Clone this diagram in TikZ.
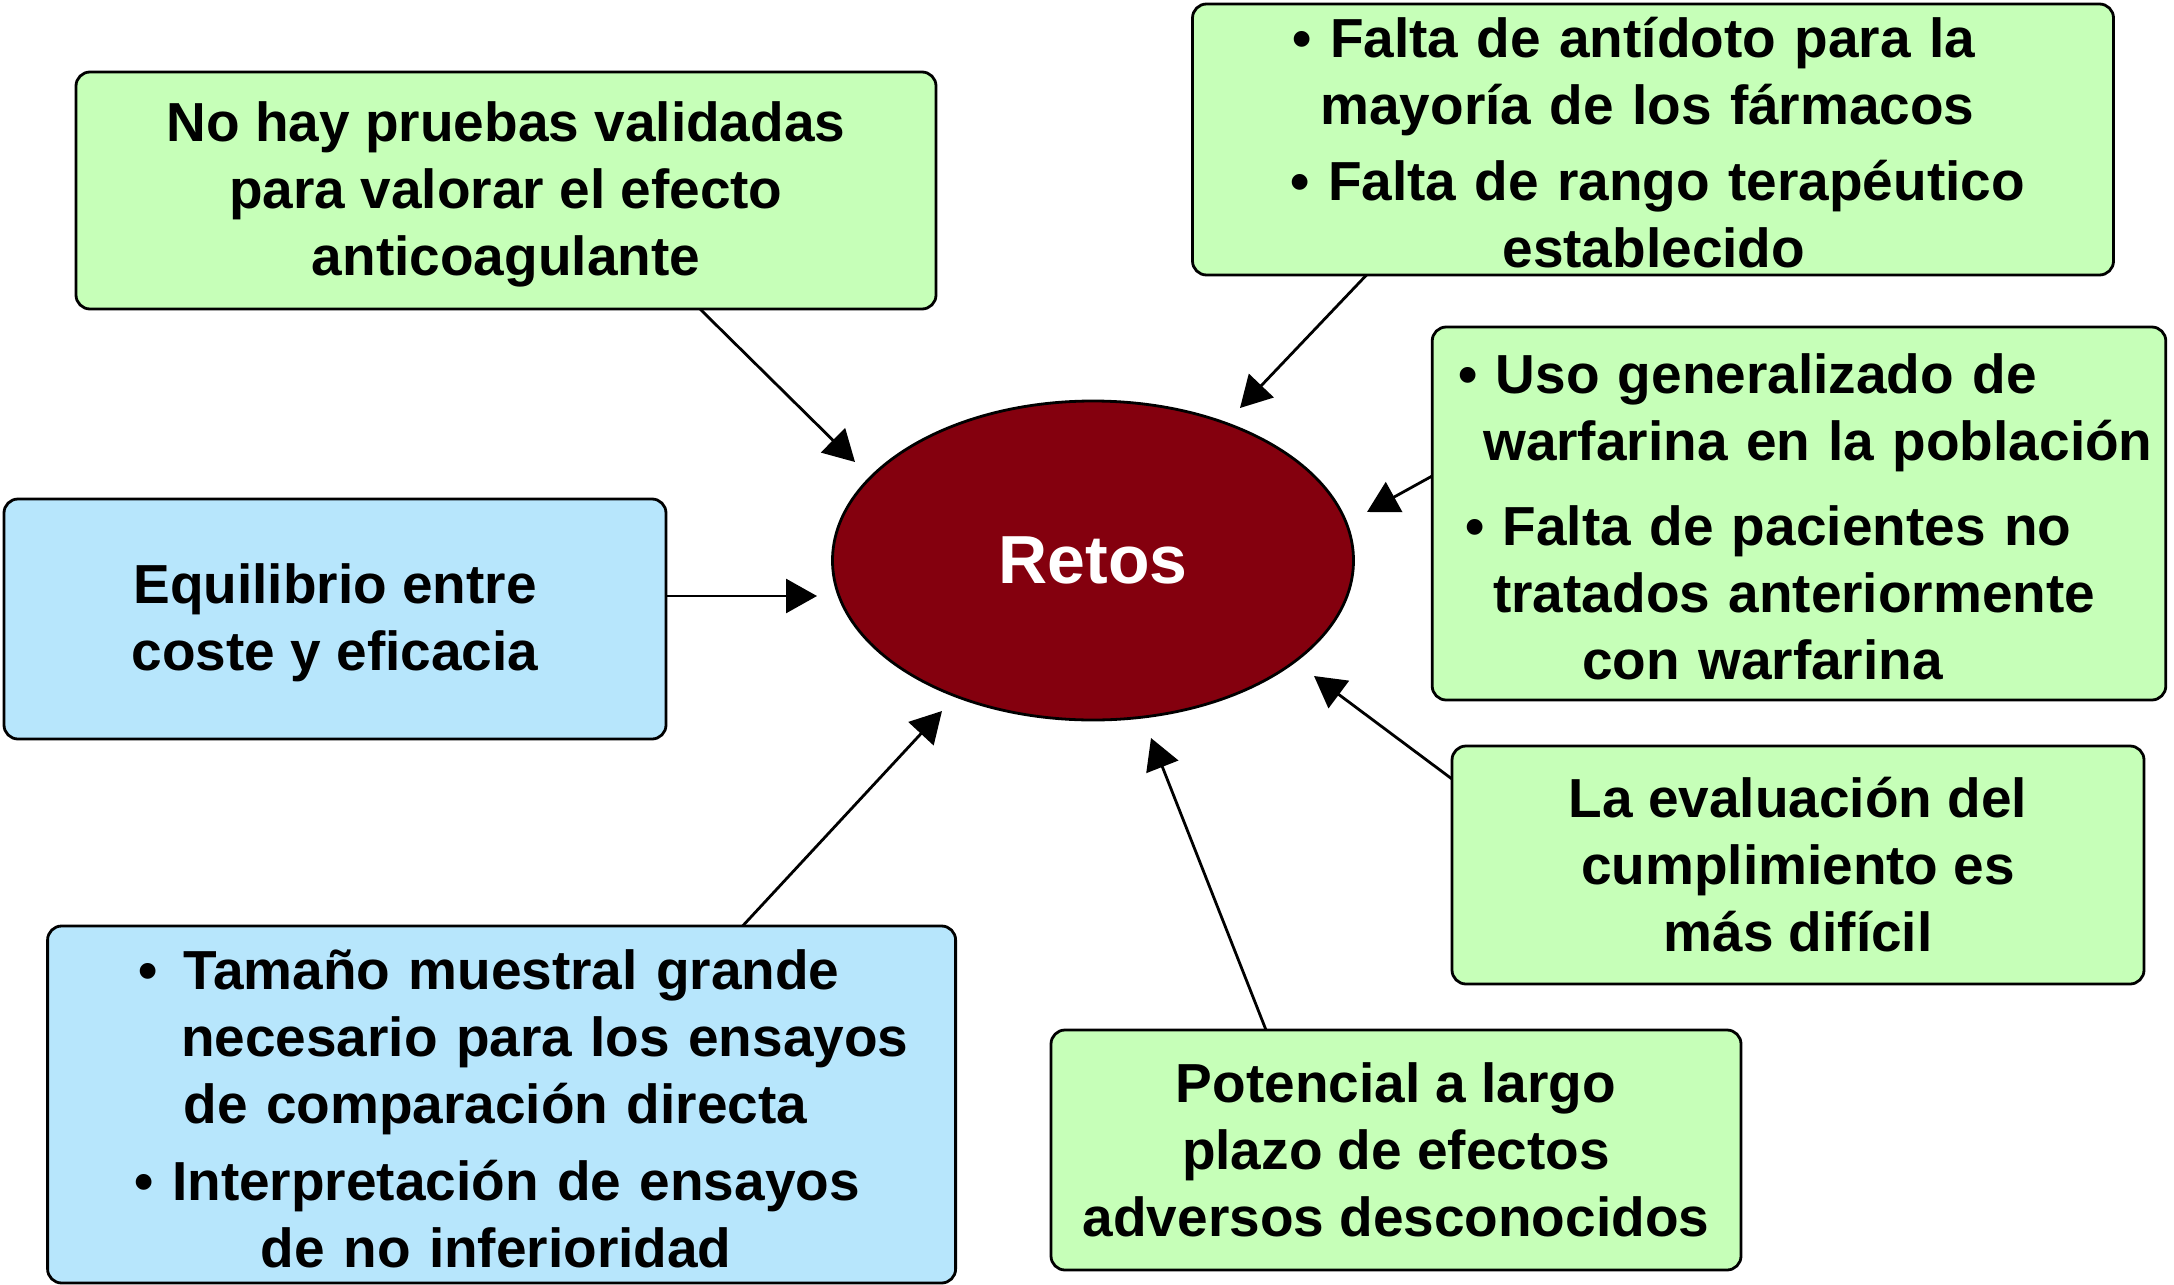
\documentclass[tikz,border=0pt]{standalone}
\usepackage{fontspec}
\setmainfont{Liberation Sans}
\usetikzlibrary{shapes.geometric,arrows.meta,calc}
\definecolor{boxgreen}{RGB}{198,255,184}
\definecolor{boxblue}{RGB}{183,230,252}
\definecolor{retosred}{RGB}{132,0,14}
\newcommand{\tstrut}[1]{\rule{0pt}{#1}}
\tikzset{
  basebox/.style={draw=black,line width=1.4pt,rounded corners=7pt,inner sep=0pt,outer sep=0pt,
    font=\bfseries\fontsize{27.5}{33.5}\selectfont},
  gbox/.style={basebox,fill=boxgreen},
  bbox/.style={basebox,fill=boxblue},
  arr/.style={-{Triangle[length=15.5pt,width=17pt]},line width=1.4pt},
}
\begin{document}
\begin{tikzpicture}[x=0.5pt,y=-0.5pt]
\useasboundingbox (0,0) rectangle (2174,1285);

% centre
\node[ellipse,draw=black,line width=1.4pt,fill=retosred,inner sep=0pt,
      minimum width=260.5pt,minimum height=159.5pt,text=white,
      font=\bfseries\fontsize{34}{40}\selectfont] (R) at (1093,560.5) {Retos};

% boxes
\node[gbox,align=center,minimum width=430pt,minimum height=118.5pt] (A) at (506,190.5)
  {\tstrut{24pt}No hay pruebas validadas\\para valorar el efecto\\anticoagulante};

\node[gbox,align=left,text width=460.5pt,minimum height=135.5pt] (B) at (1653,139.5)
  {\hspace*{50pt}\tstrut{23pt}• Falta de antídoto para la\\
   \hspace*{64pt}mayoría de los fármacos\\[4.7pt]
   \hspace*{49pt}• Falta de rango terapéutico\\
   \hspace*{155pt}establecido};

\node[gbox,align=left,text width=366.8pt,minimum height=186.5pt] (C) at (1799,513.5)
  {\hspace*{13pt}\tstrut{23pt}• Uso generalizado de\\
   \hspace*{25.5pt}warfarina en la población\\[9pt]
   \hspace*{16.5pt}• Falta de pacientes no\\
   \hspace*{30.5pt}tratados anteriormente\\
   \hspace*{75pt}con warfarina};

\node[bbox,align=center,minimum width=331pt,minimum height=120pt] (D) at (335,619)
  {\tstrut{24pt}Equilibrio entre\\coste y eficacia};

\node[gbox,align=center,minimum width=346pt,minimum height=119pt] (E) at (1798,865)
  {La evaluación del\\cumplimiento es\\más difícil};

\node[gbox,align=center,minimum width=345pt,minimum height=120pt] (F) at (1396,1150)
  {Potencial a largo\\plazo de efectos\\adversos desconocidos};

\node[bbox,align=left,text width=454pt,minimum height=178.5pt] (G) at (501.6,1104.5)
  {\hspace*{45.3pt}\tstrut{24pt}•\hspace*{13pt}Tamaño muestral grande\\
   \hspace*{66.7pt}necesario para los ensayos\\
   \hspace*{68pt}de comparación directa\\[5pt]
   \hspace*{43.5pt}• Interpretación de ensayos\\
   \hspace*{106.7pt}de no inferioridad};

% arrow tips near the centre
\coordinate (tA) at ($(R.center)+(-238,-98.5)$);
\coordinate (tB) at ($(R.center)+(147,-152.5)$);
\coordinate (tC) at ($(R.center)+(274,-48.5)$);
\coordinate (tD) at ($(R.center)+(-276,35.5)$);
\coordinate (tE) at ($(R.center)+(221,115.5)$);
\coordinate (tF) at ($(R.center)+(58,177.5)$);
\coordinate (tG) at ($(R.center)+(-151,150.5)$);

% connectors
\draw[arr] ($(A.south west)+(624,0)$) -- (tA);
\draw[arr] ($(B.south west)+(174,0)$) -- (tB);
\draw[arr] ($(C.north west)+(0,149)$) -- (tC);
\draw[arr] ($(D.north east)+(0,97)$) -- (tD);
\draw[arr] ($(E.north west)+(0,33)$) -- (tE);
\draw[arr] ($(F.north west)+(215,0)$) -- (tF);
\draw[arr] ($(G.north west)+(695,0)$) -- (tG);
\end{tikzpicture}
\end{document}
